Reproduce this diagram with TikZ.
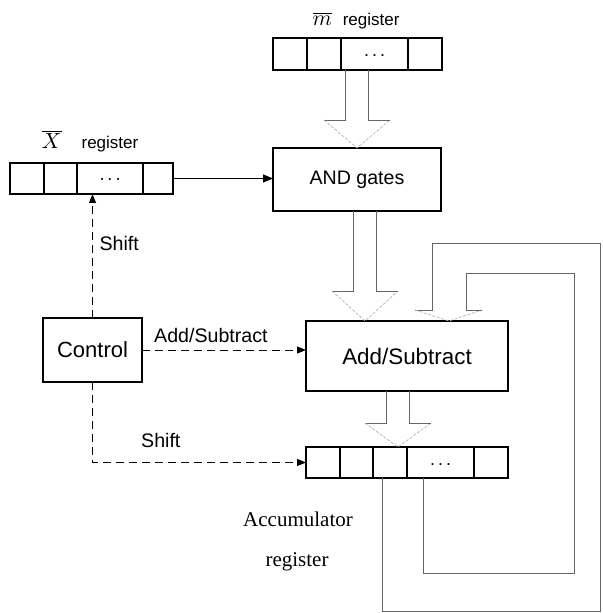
\documentclass[tikz,border=0pt]{standalone}
\usepackage{fontspec}
\setmainfont{Liberation Sans}
\newfontfamily\accfont{Liberation Serif}
\usetikzlibrary{calc,positioning,arrows.meta}

% wide hollow arrow: top of shaft, tip, head length
\newcommand{\fatarrow}[3]{%
  \draw[fat] ($(#1)+(-11.5,0)$) |- ($(#2)+(-33,-#3)$);
  \draw[fathead] ($(#2)+(-33,-#3)$) -- (#2) -- ($(#2)+(33,-#3)$);
  \draw[fat] ($(#2)+(33,-#3)$) -| ($(#1)+(11.5,0)$);}
\newcommand{\regdots}{\raisebox{-2.5pt}{\fontsize{9}{10}\selectfont .\,.\,.}}

\begin{document}
\begin{tikzpicture}[x=0.5pt,y=-0.5pt,
    cell/.style={draw,line width=0.6pt,rectangle,inner sep=0pt,outer sep=0pt,minimum height=16pt,minimum width=17pt},
    box/.style={draw,line width=0.6pt,rectangle,inner sep=0pt,outer sep=0pt},
    fat/.style={gray!80!black,line width=0.4pt},
    fathead/.style={gray!60,line width=0.35pt,dash pattern=on 1.5pt off 0.8pt},
    ctl/.style={line width=0.5pt,dash pattern=on 4pt off 2.5pt,-{Triangle[length=4.5pt,width=3.5pt]}},
    sig/.style={line width=0.5pt,-{Triangle[length=5pt,width=4pt]}},
    lbl/.style={font=\fontsize{9.8}{12}\selectfont},
    reg/.style={font=\fontsize{8.5}{10}\selectfont}]
  \useasboundingbox (0,0) rectangle (602,613);

  % m register
  \node[cell] (m1) at (290,54) {};
  \node[cell,right=0pt of m1] (m2) {};
  \node[cell,right=0pt of m2,minimum width=33.5pt] (m3) {\regdots};
  \node[cell,right=0pt of m3] (m4) {};
  \node[reg] (mlbl) at (356,21) {\fontsize{11}{12}\selectfont$\overline{m}$\hspace{5.5pt}\fontsize{8.5}{10}\selectfont register};

  % X register
  \node[cell,minimum height=15.5pt] (x1) at (27,178.5) {};
  \node[cell,minimum height=15.5pt,minimum width=16.5pt,right=0pt of x1] (x2) {};
  \node[cell,minimum height=15.5pt,minimum width=33pt,right=0pt of x2] (x3) {\regdots};
  \node[cell,minimum height=15.5pt,minimum width=15pt,right=0pt of x3] (x4) {};
  \node[reg] (xlbl) at (90,141) {\fontsize{11}{12}\selectfont$\overline{X}$\hspace{10pt}\fontsize{8.5}{10}\selectfont register};

  % accumulator
  \node[cell,minimum height=15.5pt] (a1) at (323,462.5) {};
  \node[cell,minimum height=15.5pt,minimum width=16.5pt,right=0pt of a1] (a2) {};
  \node[cell,minimum height=15.5pt,right=0pt of a2] (a3) {};
  \node[cell,minimum height=15.5pt,minimum width=33.5pt,right=0pt of a3] (a4) {\regdots};
  \node[cell,minimum height=15.5pt,right=0pt of a4] (a5) {};
  \node[font=\accfont\fontsize{10.5}{12}\selectfont] (acclbl) at (298,519) {Accumulator};
  \node[font=\accfont\fontsize{10.5}{12}\selectfont] (reglbl) at (297,562) {register};

  % blocks
  \node[box,minimum width=84pt,minimum height=31.5pt,lbl] (andg) at (357,179.5) {AND gates};
  \node[box,minimum width=49.5pt,minimum height=32pt,font=\fontsize{11}{13}\selectfont] (ctrl) at (92.5,350) {Control};
  \node[box,minimum width=101pt,minimum height=35pt,font=\fontsize{11.2}{13}\selectfont] (addsub) at (407,356) {Add/Subtract};

  % data paths
  \coordinate (mt) at (andg.north |- m3.south);
  \fatarrow{mt}{andg.north}{28}
  \coordinate (at) at ($(andg.south)+(8,0)$);
  \coordinate (atip) at (at |- addsub.north);
  \fatarrow{at}{atip}{30}
  \coordinate (st) at ($(addsub.south)+(-9,0)$);
  \coordinate (stip) at (st |- a3.north);
  \fatarrow{st}{stip}{24}

  % feedback from accumulator
  \coordinate (fbo) at ($(a3.south)+(-8,0)$);
  \coordinate (fbi) at ($(a4.south)+(-17,0)$);
  \coordinate (fbtip) at ($(addsub.north)+(42,0)$);
  \draw[fat] (fbo) |- (600,611) |- (432,243) -- (432,310) -- (415,310);
  \draw[fathead] (415,310) -- (fbtip) -- (482,310);
  \draw[fat] (482,310) -- (466,310) -- (466,273) -| (574,573) -| (fbi);

  \draw[sig] (x4.east) -- (x4.east -| andg.west);

  % control lines
  \draw[ctl] (ctrl.north) -- node[right,pos=0.6,lbl] {Shift} (ctrl.north |- x3.south);
  \draw[ctl] (ctrl.east) -- node[above,pos=0.42,lbl] {Add/Subtract} (ctrl.east -| addsub.west);
  \draw[ctl] (ctrl.south) |- node[above=4pt,pos=0.66,lbl] {Shift} (a1.west);
\end{tikzpicture}
\end{document}
